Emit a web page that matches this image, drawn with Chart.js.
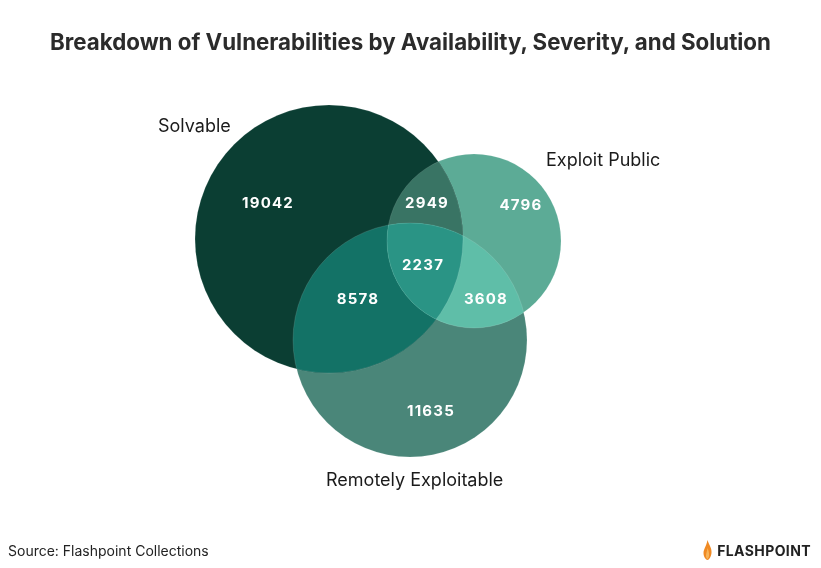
<!DOCTYPE html>
<html>
<head>
<meta charset="utf-8">
<script src="https://cdn.jsdelivr.net/npm/chart.js@4/dist/chart.umd.min.js"></script>
<style>
  html, body { margin: 0; padding: 0; background: #fff; }
  #wrap { position: relative; width: 821px; height: 568px; overflow: hidden; }
  #title { position: absolute; left: 0; top: 28px; width: 821px; text-align: center;
    font: 700 22.3px Inter, "Noto Sans", sans-serif; color: #2b2b2b; }
  #source { position: absolute; left: 8px; top: 542px;
    font: 400 14px Inter, Roboto, sans-serif; color: #222; }
  #logo { position: absolute; right: 10px; top: 540px; display: flex; align-items: center;
    font: 700 14px Inter, Roboto, sans-serif; letter-spacing: 0.4px; color: #222; }
  #logo svg { margin-right: 5px; }
  #chartVenn { position: absolute; left: 0; top: 0; }
</style>
</head>
<body>
<div id="wrap">
  <canvas id="chartVenn" width="821" height="568"></canvas>
  <div id="title">Breakdown of Vulnerabilities by Availability, Severity, and Solution</div>
  <div id="source">Source: Flashpoint Collections</div>
  <div id="logo">
    <svg width="9" height="20" viewBox="0 0 9 20"><path d="M4.5 0 C6 5 9 8 8.5 13 C8 17 6 20 4.5 20 C3 20 0.5 17 0.5 13 C0.5 9 3.5 6 4.5 0 Z" fill="#f08a24"/><path d="M4.6 8 C5.5 11 6.5 13 6 16 C5.6 18 5 19 4.5 19 C4 19 3 18 3 16 C3 13 4.2 11 4.6 8 Z" fill="#f7b45a"/></svg>
    FLASHPOINT
  </div>
</div>
<script>
// sets and region counts
const setNames = ['Solvable', 'Exploit Public', 'Remotely Exploitable'];
const regionNames = ['S', 'E', 'R', 'SE', 'SR', 'ER', 'SER'];
const regionValues = [19042, 4796, 11635, 2949, 8578, 3608, 2237];

// layout of the diagram in axis units
const circles = [
  { x: 329, y: 239, r: 134 },   // Solvable
  { x: 474, y: 241, r: 87 },    // Exploit Public
  { x: 410, y: 340, r: 117 }    // Remotely Exploitable
];
const setLabelPos = [
  { x: 158, y: 127 },
  { x: 546, y: 161 },
  { x: 326, y: 481 }
];
const regionLabelPos = {
  S: { x: 268, y: 203 }, E: { x: 521, y: 205 }, R: { x: 431, y: 411 },
  SE: { x: 427, y: 203 }, SR: { x: 358, y: 299 }, ER: { x: 486, y: 299 },
  SER: { x: 423, y: 265 }
};
const regionColors = {
  S: '#0b3e33', E: '#5cab96', R: '#4a8679',
  SE: '#397464', SR: '#137266', ER: '#5fbea8', SER: '#2a9485'
};

function pxRadius(chart, r) {
  const s = chart.scales.x;
  if (!s) return 0;
  const d = Math.abs(s.getPixelForValue(r) - s.getPixelForValue(0));
  return isFinite(d) ? d : 0;
}

function circlePath(chart, c) {
  const ctx = chart.ctx;
  const px = chart.scales.x.getPixelForValue(c.x);
  const py = chart.scales.y.getPixelForValue(c.y);
  ctx.beginPath();
  ctx.arc(px, py, pxRadius(chart, c.r), 0, Math.PI * 2);
}

// fills the overlaps with their own colours, then writes the counts
const vennOverlaps = {
  id: 'vennOverlaps',
  afterDatasetsDraw(chart) {
    const ctx = chart.ctx;
    const idx = { S: 0, E: 1, R: 2 };
    ['SE', 'SR', 'ER', 'SER'].forEach((key) => {
      ctx.save();
      key.split('').forEach((k) => {
        circlePath(chart, circles[idx[k]]);
        ctx.clip();
      });
      ctx.fillStyle = regionColors[key];
      ctx.fillRect(0, 0, chart.width, chart.height);
      ctx.restore();
    });

    // faint rims
    ctx.save();
    ctx.strokeStyle = 'rgba(255,255,255,0.12)';
    ctx.lineWidth = 1;
    circles.forEach((c) => { circlePath(chart, c); ctx.stroke(); });
    ctx.restore();

    ctx.save();
    ctx.fillStyle = '#ffffff';
    ctx.font = '700 15px Inter, "Noto Sans", sans-serif';
    ctx.letterSpacing = '1.2px';
    ctx.textAlign = 'center';
    ctx.textBaseline = 'middle';
    regionNames.forEach((key, i) => {
      const p = regionLabelPos[key];
      ctx.fillText(String(regionValues[i]),
        chart.scales.x.getPixelForValue(p.x), chart.scales.y.getPixelForValue(p.y));
    });
    ctx.restore();

    ctx.save();
    ctx.fillStyle = '#1a1a1a';
    ctx.font = '400 18px Inter, "Noto Sans", sans-serif';
    ctx.textAlign = 'left';
    ctx.textBaseline = 'middle';
    setNames.forEach((name, i) => {
      const p = setLabelPos[i];
      ctx.fillText(name, chart.scales.x.getPixelForValue(p.x), chart.scales.y.getPixelForValue(p.y));
    });
    ctx.restore();
  }
};

const dataVenn = {
  datasets: setNames.map((name, i) => ({
    label: name,
    data: [{ x: circles[i].x, y: circles[i].y }],
    backgroundColor: regionColors['SER'[i]],
    borderWidth: 0,
    clip: false
  }))
};

const configVenn = {
  type: 'bubble',
  data: dataVenn,
  options: {
    responsive: false,
    animation: false,
    events: [],
    layout: { padding: 0, autoPadding: false },
    plugins: {
      legend: { display: false },
      tooltip: { enabled: false },
      title: { display: false }
    },
    scales: {
      x: { type: 'linear', display: false, min: 0, max: 821 },
      y: { type: 'linear', display: false, min: 0, max: 568, reverse: true }
    }
  },
  plugins: [vennOverlaps]
};

const myChartVenn = new Chart(document.getElementById('chartVenn'), configVenn);

// bubble radius is in pixels, so size it from the x scale once it exists
myChartVenn.data.datasets.forEach((ds, i) => {
  ds.data[0].r = pxRadius(myChartVenn, circles[i].r);
});
myChartVenn.update();
</script>
</body>
</html>
